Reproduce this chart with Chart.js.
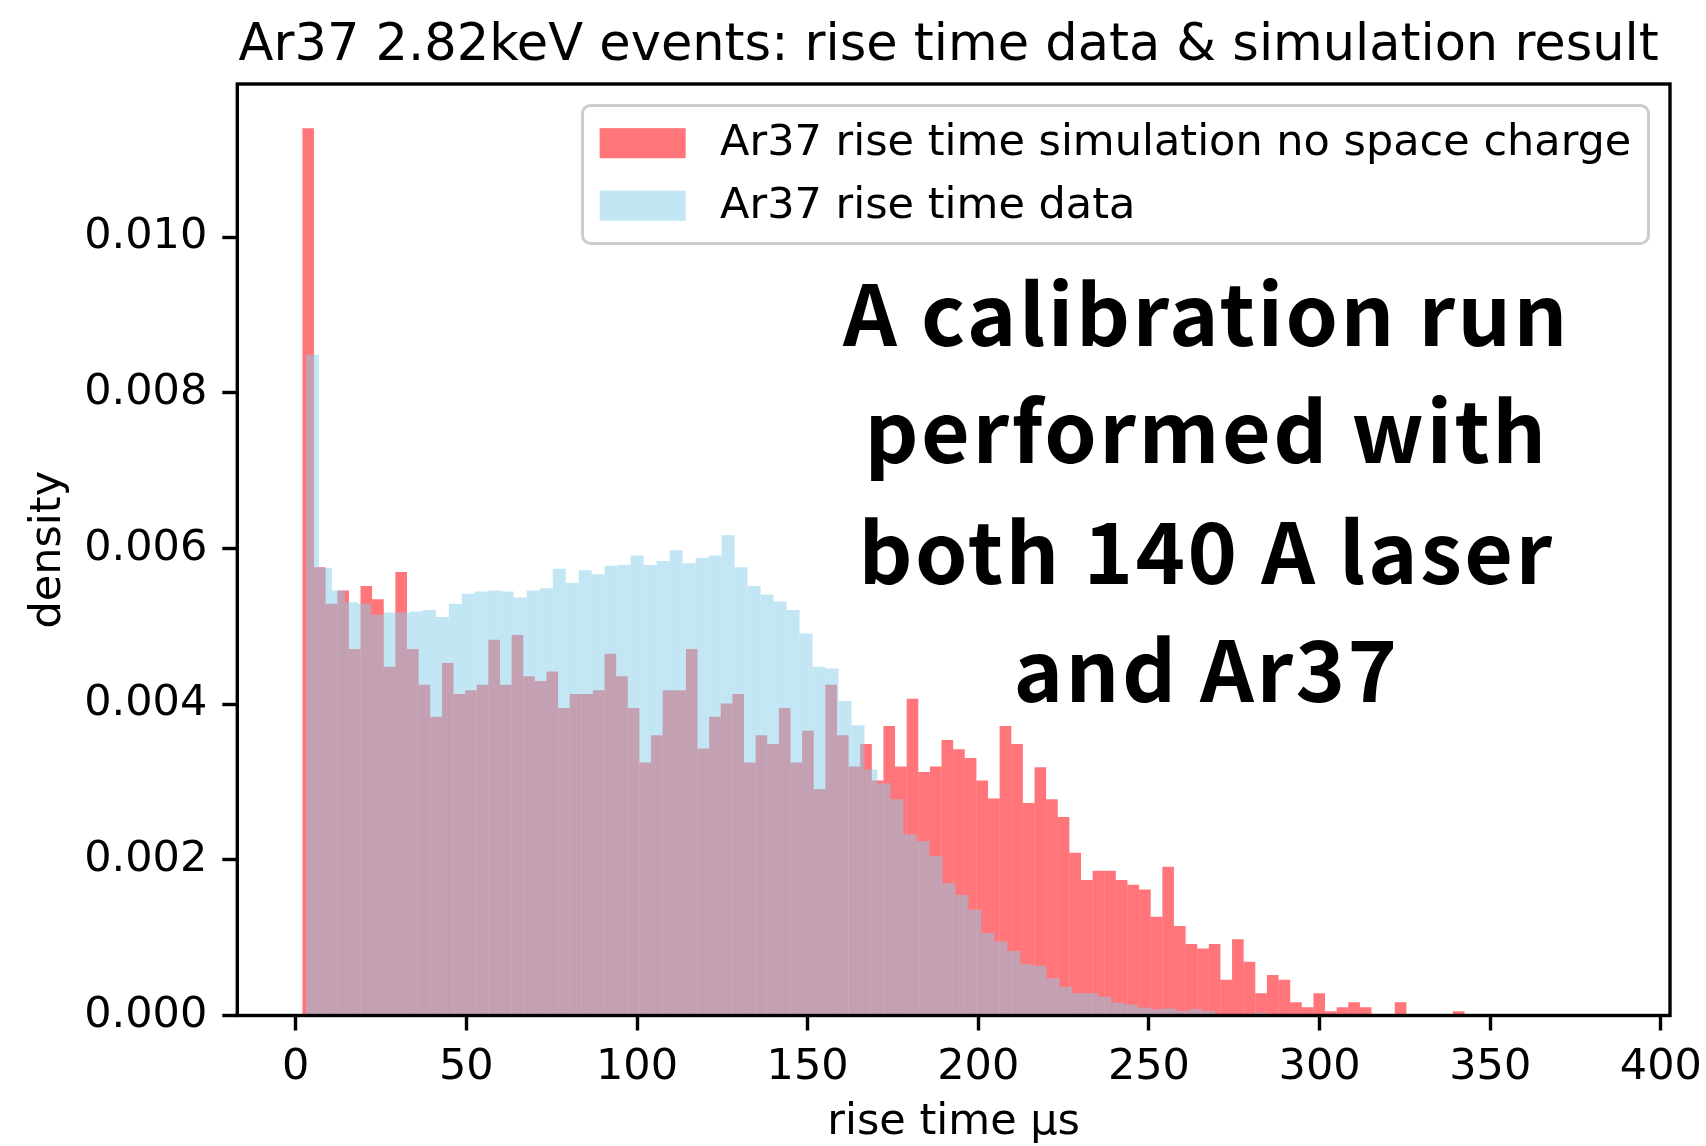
<!DOCTYPE html>
<html>
<head>
<meta charset="utf-8">
<script src="https://cdn.jsdelivr.net/npm/chart.js@4.4.1/dist/chart.umd.min.js"></script>
<style>
  html, body { margin: 0; padding: 0; background: #fff; }
  #wrap { position: relative; width: 1706px; height: 1146px; }
</style>
</head>
<body>
<div id="wrap"><canvas id="c" width="1706" height="1146"></canvas></div>
<script>
// ---------------- DATA ----------------
const titleText = 'Ar37 2.82keV events: rise time data & simulation result';
const xAxisLabel = 'rise time \u03bcs';
const yAxisLabel = 'density';
const legendLabels = ['Ar37 rise time simulation no space charge', 'Ar37 rise time data'];
const annotationLines = ['A calibration run', 'performed with', 'both 140 A laser', 'and Ar37'];

// histogram bin definitions (100 bins each)
const simBinStart = 1.96, simBinWidth = 3.405;
const dataBinStart = 3.0, dataBinWidth = 3.806;

// simulation density per bin (units of 1e-3)
const simDensity = [
  11.40, 5.76, 5.29, 5.46, 4.71, 5.52, 5.35, 4.48, 5.70, 4.71,
  4.25, 3.84, 4.53, 4.13, 4.18, 4.25, 4.83, 4.25, 4.89, 4.36,
  4.30, 4.42, 3.95, 4.13, 4.13, 4.18, 4.65, 4.36, 3.95, 3.25,
  3.60, 4.18, 4.18, 4.71, 3.43, 3.84, 4.01, 4.13, 3.25, 3.60,
  3.49, 3.95, 3.25, 3.66, 2.91, 4.25, 3.60, 3.20, 3.49, 3.02,
  3.72, 3.20, 4.07, 3.13, 3.20, 3.54, 3.42, 3.31, 3.02, 2.79,
  3.72, 3.49, 2.73, 3.19, 2.78, 2.55, 2.09, 1.74, 1.86, 1.86,
  1.74, 1.68, 1.62, 1.27, 1.91, 1.15, 0.92, 0.86, 0.92, 0.46,
  0.98, 0.69, 0.285, 0.52, 0.46, 0.17, 0.105, 0.285, 0.054, 0.105,
  0.17, 0.105, 0, 0, 0.17, 0, 0, 0, 0, 0.054
];

// measured data density per bin (units of 1e-3)
const dataDensity = [
  8.49, 5.75, 5.46, 5.31, 5.29, 5.15, 5.18, 5.18, 5.19, 5.21,
  5.12, 5.29, 5.42, 5.45, 5.46, 5.45, 5.37, 5.46, 5.49, 5.74,
  5.56, 5.72, 5.67, 5.78, 5.79, 5.91, 5.79, 5.84, 5.98, 5.81,
  5.88, 5.91, 6.17, 5.76, 5.52, 5.41, 5.32, 5.21, 4.91, 4.48,
  4.46, 4.04, 3.73, 3.16, 2.98, 2.78, 2.33, 2.24, 2.05, 1.70,
  1.55, 1.36, 1.06, 0.95, 0.83, 0.66, 0.64, 0.48, 0.37, 0.285,
  0.285, 0.24, 0.165, 0.14, 0.10, 0.08, 0.09, 0.055, 0.08, 0.055,
  0, 0, 0, 0.04, 0, 0, 0, 0, 0, 0,
  0, 0, 0, 0, 0, 0, 0, 0, 0, 0,
  0, 0, 0, 0, 0, 0, 0, 0, 0, 0
];

const xTicks = [0, 50, 100, 150, 200, 250, 300, 350, 400];
const yTicks = [0, 0.002, 0.004, 0.006, 0.008, 0.010];

// ---------------- BUILD ----------------
const simPoints = simDensity.map((v, i) => ({ x: simBinStart + simBinWidth * (i + 0.5), y: v * 1e-3 }));
const dataPoints = dataDensity.map((v, i) => ({ x: dataBinStart + dataBinWidth * (i + 0.5), y: v * 1e-3 }));

const lo = simBinStart, hi = dataBinStart + dataDensity.length * dataBinWidth;
const xMin = lo - 0.05 * (hi - lo), xMax = hi + 0.05 * (hi - lo);
const yMax = 1.05 * Math.max(...simDensity, ...dataDensity) * 1e-3;

const simColor = 'rgba(255, 0, 10, 0.54)';
const dataColor = 'rgba(135, 206, 235, 0.5)';

const FS = 43;
const tickFont = { family: 'DejaVu Sans', size: FS };
const labelFont = { family: 'DejaVu Sans', size: FS, lineHeight: 1 };

const decor = {
  id: 'decor',
  beforeDraw(chart) {
    const c = chart.ctx;
    c.save(); c.fillStyle = '#fff'; c.fillRect(0, 0, chart.width, chart.height); c.restore();
  },
  afterDraw(chart) {
    const c = chart.ctx, a = chart.chartArea;
    c.save();
    // frame (spines)
    c.lineWidth = 3.4; c.strokeStyle = '#000';
    c.strokeRect(a.left, a.top, a.right - a.left, a.bottom - a.top);
    // title
    c.fillStyle = '#000';
    c.font = '51px "DejaVu Sans"';
    c.textAlign = 'center'; c.textBaseline = 'alphabetic';
    c.fillText(titleText, (a.left + a.right) / 2 - 5, a.top - 24);
    // legend
    c.font = FS + 'px "DejaVu Sans"';
    const tw = Math.max(...legendLabels.map(t => c.measureText(t).width));
    const pad = 0.4 * FS, hl = 2 * FS, htp = 0.8 * FS, hh = 0.7 * FS, ls = 0.5 * FS, rowH = 41;
    const w = pad + hl + htp + tw + pad;
    const h = pad * 2 + rowH * 2 + ls;
    const x1 = a.right - 0.5 * FS, x0 = x1 - w, y0 = a.top + 0.5 * FS;
    c.beginPath();
    c.roundRect(x0, y0, w, h, 8);
    c.fillStyle = 'rgba(255,255,255,0.8)'; c.fill();
    c.lineWidth = 3; c.strokeStyle = '#cccccc'; c.stroke();
    const colors = [simColor, dataColor];
    legendLabels.forEach((t, k) => {
      const cy = y0 + pad + rowH / 2 + k * (rowH + ls);
      c.fillStyle = colors[k];
      c.fillRect(x0 + pad, cy - hh / 2, hl, hh);
      c.fillStyle = '#000';
      c.textAlign = 'left'; c.textBaseline = 'middle';
      c.fillText(t, x0 + pad + hl + htp, cy + 1);
    });
    // annotation text
    c.font = 'bold 84px "Noto Sans CJK JP"';
    c.letterSpacing = '2.5px';
    c.textAlign = 'center'; c.textBaseline = 'alphabetic';
    c.fillStyle = '#000';
    const cx = a.left + 0.6765 * (a.right - a.left);
    const baselines = [346, 462.5, 584, 702];
    annotationLines.forEach((t, k) => c.fillText(t, cx, baselines[k]));
    c.restore();
  }
};

new Chart(document.getElementById('c'), {
  type: 'bar',
  data: {
    datasets: [
      { label: legendLabels[0], data: simPoints, xAxisID: 'x', yAxisID: 'y', backgroundColor: simColor,
        borderWidth: 0, inflateAmount: 0, barPercentage: 1, categoryPercentage: 1, grouped: false, order: 2 },
      { label: legendLabels[1], data: dataPoints, xAxisID: 'x2', yAxisID: 'y', backgroundColor: dataColor,
        borderWidth: 0, inflateAmount: 0, barPercentage: 1, categoryPercentage: 1, grouped: false, order: 1 }
    ]
  },
  options: {
    responsive: false,
    animation: false,
    devicePixelRatio: 1,
    layout: { padding: { left: 0, top: 84, right: 36, bottom: 0 } },
    plugins: { legend: { display: false }, title: { display: false }, tooltip: { enabled: false } },
    scales: {
      x: {
        type: 'linear', position: 'bottom', min: xMin, max: xMax, offset: false,
        afterBuildTicks: s => { s.ticks = xTicks.map(v => ({ value: v })); },
        afterFit: s => { s.height = 130.5; s.paddingLeft = 0; s.paddingRight = 0; },
        grid: { display: true, offset: false, drawOnChartArea: false, drawTicks: true, tickLength: 15, tickWidth: 3.4, tickColor: '#000' },
        border: { display: false },
        ticks: { font: tickFont, color: '#000', padding: 12, maxRotation: 0, autoSkip: false, callback: v => String(v) },
        title: { display: true, text: xAxisLabel, font: labelFont, color: '#000', padding: { top: 0, bottom: 1.5 } }
      },
      x2: {
        type: 'linear', display: false, min: xMin, max: xMax, offset: false,
        afterBuildTicks: s => { s.ticks = xTicks.map(v => ({ value: v })); },
        grid: { offset: false }
      },
      y: {
        type: 'linear', position: 'left', min: 0, max: yMax,
        afterBuildTicks: s => { s.ticks = yTicks.map(v => ({ value: v })); },
        afterFit: s => { s.width = 237.3; s.paddingTop = 0; s.paddingBottom = 0; },
        grid: { display: true, drawOnChartArea: false, drawTicks: true, tickLength: 15, tickWidth: 3.4, tickColor: '#000' },
        border: { display: false },
        ticks: { font: tickFont, color: '#000', padding: 15, autoSkip: false, callback: v => v.toFixed(3) },
        title: { display: true, text: yAxisLabel, font: labelFont, color: '#000', padding: { top: 27.5, bottom: 0 } }
      }
    }
  },
  plugins: [decor]
});
</script>
</body>
</html>
